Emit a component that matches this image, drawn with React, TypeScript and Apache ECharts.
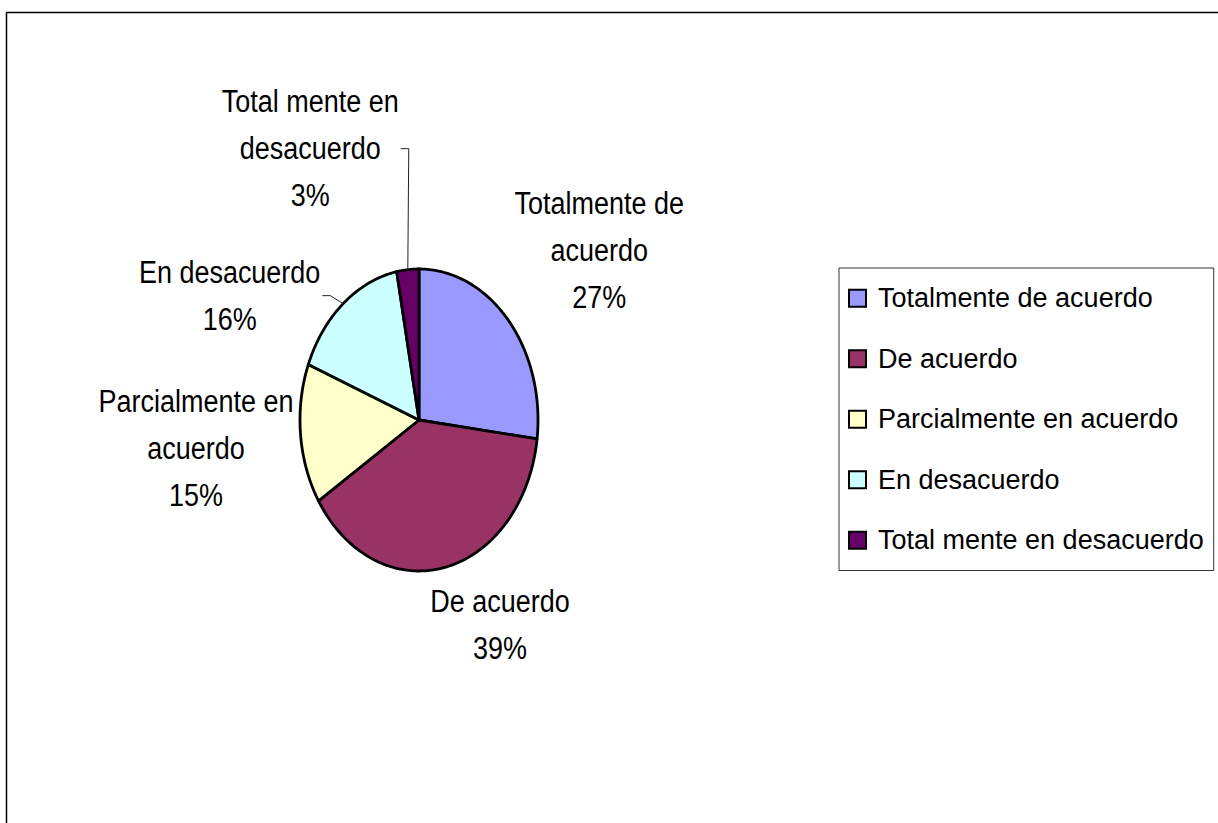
import React, { useEffect, useRef } from "react";
import * as echarts from "echarts";

// ---- data ----
const categories = [
  "Totalmente de acuerdo",
  "De acuerdo",
  "Parcialmente en acuerdo",
  "En desacuerdo",
  "Total mente en desacuerdo",
];
const labelNames = [
  "Totalmente de\nacuerdo",
  "De acuerdo",
  "Parcialmente en\nacuerdo",
  "En desacuerdo",
  "Total mente en\ndesacuerdo",
];
const values = [27, 39, 15, 16, 3];

// ---- style / layout ----
const colors = ["#9999FF", "#993366", "#FFFFCC", "#CCFFFF", "#660066"];
const FONT = "'Liberation Sans', Arial, Helvetica, sans-serif";
const LABEL_SIZE = 31;
const LABEL_SX = 0.87;
const LABEL_LH = 47;
const CX = 419;
const CY = 420;
const RX = 119;
const RY = 151;
// label centre offset from the slice's mid-angle point on the rim
const labelOffsets = [
  [91, -70],
  [55, 57],
  [-104.5, 14],
  [-113.5, -8],
  [-97.5, -121],
];
const withLeader = [false, false, false, true, true];

function measure(text: string): number {
  const c = document.createElement("canvas").getContext("2d");
  if (!c) return text.length * LABEL_SIZE * 0.5;
  c.font = `${LABEL_SIZE}px ${FONT}`;
  return Math.max(...text.split("\n").map((t) => c.measureText(t).width));
}

export default function App() {
  const ref = useRef<HTMLDivElement>(null);
  useEffect(() => {
    if (!ref.current) return;
    const chart = echarts.init(ref.current, null, { renderer: "svg" });
    const total = values.reduce((a, b) => a + b, 0);

    const series = categories.map((name, i) => ({
      type: "custom",
      name,
      coordinateSystem: "none",
      data: [[values[i]]],
      itemStyle: { color: colors[i] },
      renderItem: (_params: any, api: any) => {
        const v = api.value(0) as number;
        const before = values.slice(0, i).reduce((a, b) => a + b, 0);
        const a0 = (before / total) * Math.PI * 2;
        const a1 = a0 + (v / total) * Math.PI * 2;
        const pts: number[][] = [[CX, CY]];
        const steps = Math.max(8, Math.ceil(((a1 - a0) * 180) / Math.PI));
        for (let k = 0; k <= steps; k++) {
          const a = a0 + ((a1 - a0) * k) / steps;
          pts.push([CX + RX * Math.sin(a), CY - RY * Math.cos(a)]);
        }
        const am = (a0 + a1) / 2;
        const ax = CX + RX * Math.sin(am);
        const ay = CY - RY * Math.cos(am);
        const lx = ax + labelOffsets[i][0];
        const ly = ay + labelOffsets[i][1];
        const text = `${labelNames[i]}\n${Math.round((v / total) * 100)}%`;
        const children: any[] = [
          {
            type: "polygon",
            shape: { points: pts },
            style: {
              fill: colors[i],
              stroke: "#000",
              lineWidth: 2.8,
              lineJoin: "round",
            },
          },
          {
            type: "text",
            x: lx,
            y: ly,
            scaleX: LABEL_SX,
            style: {
              text,
              fontSize: LABEL_SIZE,
              fontFamily: FONT,
              fill: "#000",
              align: "center",
              verticalAlign: "middle",
              lineHeight: LABEL_LH,
            },
          },
        ];
        if (withLeader[i]) {
          const w = measure(labelNames[i]) * LABEL_SX;
          const sx = lx + w / 2 + 2;
          children.push({
            type: "polyline",
            shape: {
              points: [
                [sx, ly],
                [sx + 8, ly],
                [ax, ay],
              ],
            },
            style: { stroke: "#222", lineWidth: 1, fill: "none" },
          });
        }
        return { type: "group", children };
      },
    }));

    chart.setOption({
      animation: false,
      color: colors,
      backgroundColor: "#fff",
      graphic: [
        {
          type: "rect",
          shape: { x: 6.5, y: 12.5, width: 1500, height: 1000 },
          style: { fill: "none", stroke: "#000", lineWidth: 1.5 },
          z: -10,
          silent: true,
        },
      ],
      legend: {
        orient: "vertical",
        left: 839,
        top: 268,
        data: categories,
        icon: "rect",
        itemWidth: 17,
        itemHeight: 17,
        itemGap: 30,
        padding: [15, 10, 15, 9],
        borderColor: "#333",
        borderWidth: 1,
        itemStyle: { borderColor: "#000", borderWidth: 2 },
        selectedMode: false,
        textStyle: {
          fontSize: 27,
          fontFamily: FONT,
          color: "#000",
          lineHeight: 30.5,
          padding: [0, 0, 0, 7],
        },
      },
      series,
    });
    return () => chart.dispose();
  }, []);
  return (
    <div
      ref={ref}
      style={{ position: "absolute", left: 0, top: 0, width: 1218, height: 823 }}
    />
  );
}
